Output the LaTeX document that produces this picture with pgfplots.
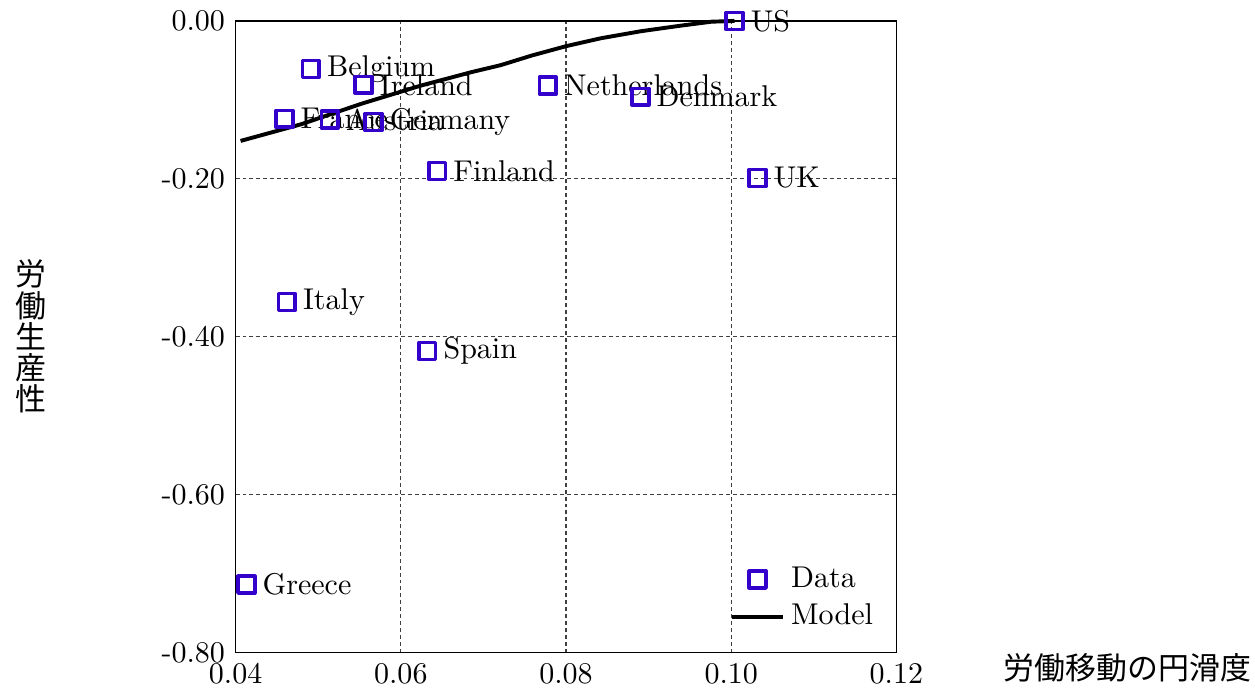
\documentclass[border=0pt]{standalone}
\usepackage{fontspec}
\usepackage{pgfplots}
\usepackage{pgfplotstable}
\pgfplotsset{compat=1.18}
\newfontfamily\jp{Noto Sans CJK JP}
\definecolor{datablue}{RGB}{51,0,204}

\pgfplotstableread{
x y name
0.1004 0.000 US
0.0491 -0.061 Belgium
0.0555 -0.081 Ireland
0.0459 -0.124 France
0.0514 -0.125 Austria
0.0567 -0.128 Germany
0.0644 -0.190 Finland
0.0778 -0.082 Netherlands
0.0890 -0.096 Denmark
0.1032 -0.199 UK
0.0462 -0.356 Italy
0.0632 -0.418 Spain
0.0413 -0.714 Greece
}\countries

\pgfplotstableread{
x y
0.0406 -0.152
0.0479 -0.131
0.0552 -0.105
0.0624 -0.082
0.0685 -0.065
0.0721 -0.056
0.0758 -0.044
0.0800 -0.032
0.0842 -0.022
0.0891 -0.013
0.0939 -0.006
0.0976 -0.001
0.1004 0.000
}\model

\begin{document}
\begin{tikzpicture}
\begin{axis}[
  scale only axis, width=220pt, height=210.3pt,
  xmin=0.04, xmax=0.12, ymin=-0.8, ymax=0,
  xtick={0.04,0.06,0.08,0.10,0.12},
  xticklabels={0.04,0.06,0.08,0.10,0.12},
  ytick={-0.8,-0.6,-0.4,-0.2,0},
  yticklabels={-0.80,-0.60,-0.40,-0.20,0.00},
  grid=major,
  major grid style={black!75, dash pattern=on 1.3pt off 1pt, line width=0.35pt},
  major tick length=0pt,
  axis line style={line width=0.4pt},
  clip=false,
  xlabel={労働移動の円滑度},
  xlabel style={font=\jp\fontsize{10.3}{10.6}\selectfont, inner sep=1.2pt, at={(axis description cs:1,0)}, anchor=center, xshift=77pt, yshift=-5pt},
  ylabel={労\\働\\生\\産\\性},
  ylabel style={font=\jp\fontsize{10.3}{10.4}\selectfont, inner ysep=3.3pt, inner xsep=5pt, at={(axis description cs:0,0.5)}, rotate=-90, anchor=center, align=center, xshift=-68.3pt},
  legend style={draw=none, fill=none, at={(rel axis cs:1,0)}, anchor=south east, xshift=-2.6pt, yshift=3.5pt},
  legend cell align=left,
]
\addplot[only marks, mark=square, mark size=2.8pt,
  mark options={line width=1.2pt, draw=datablue, fill=none, solid, line join=round},
  nodes near coords, point meta=explicit symbolic,
  every node near coord/.append style={anchor=west, text=black, xshift=1.5pt}]
  table[x=x, y=y, meta=name]{\countries};
\addlegendentry{Data}
\addplot[black, line width=1.3pt, no marks] table[x=x, y=y]{\model};
\addlegendentry{Model}
\end{axis}
\end{tikzpicture}
\end{document}
